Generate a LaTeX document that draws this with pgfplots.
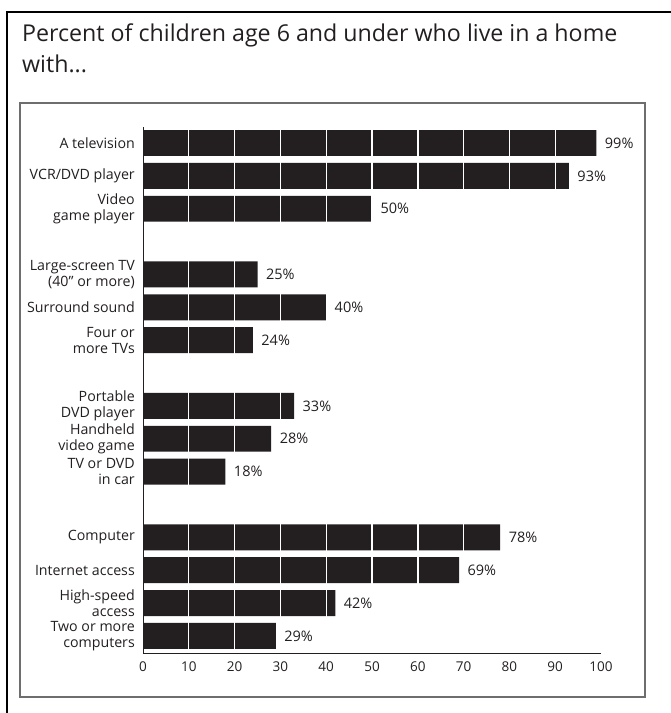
\documentclass[border=0pt]{standalone}
\usepackage{pgfplots}
\pgfplotsset{compat=1.18}
\usepackage{fontspec}
\setmainfont{Open Sans}
\definecolor{ink}{HTML}{231F20}
\definecolor{boxgray}{HTML}{6E6E6E}
\begin{document}
\begin{tikzpicture}
\useasboundingbox (0pt,0pt) rectangle (671pt,-713pt);
% outer frame
\draw[black,line width=2.5pt] (671pt,-12pt) -- (7pt,-12pt) -- (7pt,-713pt);
% inner box
\draw[boxgray,line width=1.5pt] (20pt,-103pt) rectangle (645pt,-697pt);
% title
\node[anchor=base west,inner sep=0pt,text=ink,font=\fontsize{23.2}{27}\selectfont] at (22pt,-41pt) {Percent of children age 6 and under who live in a home};
\node[anchor=base west,inner sep=0pt,text=ink,font=\fontsize{23.2}{27}\selectfont] at (22pt,-72pt) {with...};
\begin{axis}[
  at={(143pt,-653pt)}, anchor=south west,
  scale only axis, width=458pt, height=526pt,
  xmin=0, xmax=100, ymin=-0.52, ymax=15.487,
  xbar, bar width=0.79, bar shift=0pt,
  axis x line*=bottom, axis y line*=left,
  axis line style={ink,line width=0.9pt},
  xtick={0,10,...,100},
  major tick length=0pt,
  xmajorgrids, major grid style={white,line width=1.4pt},
  axis on top,
  ytick={15,14,13,11,10,9,7,6,5,3,2,1,0},
  yticklabels={A television,VCR/DVD player,{Video\\game player},{Large-screen TV\\(40" or more)},Surround sound,{Four or\\more TVs},{Portable\\DVD player},{Handheld\\video game},{TV or DVD\\in car},Computer,Internet access,{High-speed\\access},{Two or more\\computers}},
  yticklabel style={align=right,font=\fontsize{14.2}{16}\selectfont,text=ink,inner sep=0pt,xshift=-8pt},
  xticklabel style={font=\fontsize{13.5}{15}\selectfont,text=ink,yshift=-5pt},
  /pgf/number format/assume math mode=true,
  point meta=x,
  nodes near coords={\pgfmathprintnumber{\pgfplotspointmeta}\%},
  nodes near coords style={anchor=west,font=\fontsize{14.5}{15}\selectfont,text=ink,xshift=5pt},
]
\addplot[fill=ink,draw=none] coordinates {
(99,15) (93,14) (50,13)
(25,11) (40,10) (24,9)
(33,7) (28,6) (18,5)
(78,3) (69,2) (42,1) (29,0)
};
\end{axis}
\end{tikzpicture}
\end{document}
